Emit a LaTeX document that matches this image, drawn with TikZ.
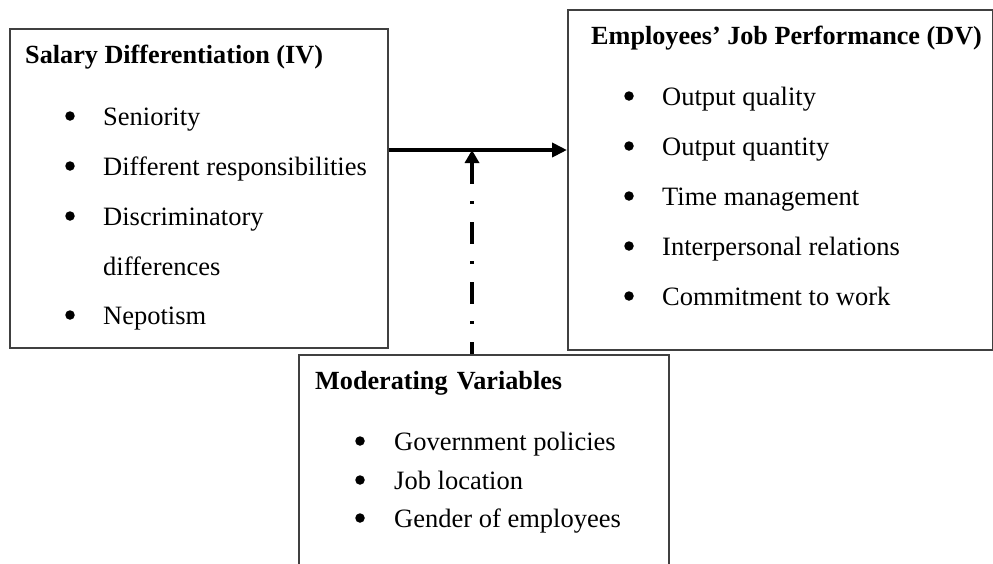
\documentclass[tikz,border=0pt]{standalone}
\usepackage{fontspec}
\setmainfont{Liberation Serif}
\usetikzlibrary{arrows.meta}
\begin{document}
\begin{tikzpicture}[x=1pt,y=-1pt,
  box/.style={draw=black!75, line width=1.5pt, rectangle, inner sep=0pt, anchor=north west},
  ttl/.style={font=\fontsize{26.2}{30}\selectfont\bfseries, anchor=base west, inner sep=0pt},
  itm/.style={font=\fontsize{26.5}{30}\selectfont, anchor=base west, inner sep=0pt},
  dot/.style={circle, fill=black, inner sep=0pt, minimum size=9.5pt},
  link/.style={line width=4pt, -{Triangle[length=15pt,width=14pt]}},
  modlink/.style={line width=4pt, dash pattern=on 22pt off 17pt on 3pt off 18pt, {Triangle[length=13pt,width=14pt]}-},
]
\useasboundingbox (0,0) rectangle (993,563);
\clip (0,0) rectangle (993,563);
% boxes
\node[box, minimum width=378pt, minimum height=319pt] (iv) at (9,28) {};
\node[box, minimum width=425pt, minimum height=340pt] (dv) at (567,9) {};
\node[box, minimum width=370pt, minimum height=220pt] (mod) at (298,354) {};
% left box
\node[ttl] (ivt) at (25,63.5) {Salary Differentiation (IV)};
\node[dot] (ivd1) at (70,116) {};
\node[itm] (ivi1) at (103,125.5) {Seniority};
\node[dot] (ivd2) at (70,166) {};
\node[itm] (ivi2) at (103,175.5) {Different responsibilities};
\node[dot] (ivd3) at (70,216) {};
\node[itm] (ivi3) at (103,225.5) {Discriminatory};
\node[itm] (ivi3b) at (103,275) {differences};
\node[dot] (ivd4) at (70,315) {};
\node[itm] (ivi4) at (103,324.5) {Nepotism};
% right box
\node[ttl] (dvt) at (591,44) {Employees’ Job Performance (DV)};
\node[dot] (dvd1) at (629,96) {};
\node[itm] (dvi1) at (662,105) {Output quality};
\node[dot] (dvd2) at (629,146) {};
\node[itm] (dvi2) at (662,155) {Output quantity};
\node[dot] (dvd3) at (629,196) {};
\node[itm] (dvi3) at (662,205) {Time management};
\node[dot] (dvd4) at (629,246) {};
\node[itm] (dvi4) at (662,255) {Interpersonal relations};
\node[dot] (dvd5) at (629,296) {};
\node[itm] (dvi5) at (662,305) {Commitment to work};
% bottom box
\node[ttl] (modt) at (315,389) {Moderating\hspace{0.35em}Variables};
\node[dot] (modd1) at (360,441) {};
\node[itm] (modi1) at (394,450) {Government policies};
\node[dot] (modd2) at (360,480) {};
\node[itm] (modi2) at (394,489) {Job location};
\node[dot] (modd3) at (360,518) {};
\node[itm] (modi3) at (394,527) {Gender of employees};
% connectors
\coordinate (junc) at (472,150);
\draw[link] (iv.east |- junc) -- (dv.west |- junc);
\draw[modlink] (junc) -- (junc |- mod.north);
\end{tikzpicture}
\end{document}
